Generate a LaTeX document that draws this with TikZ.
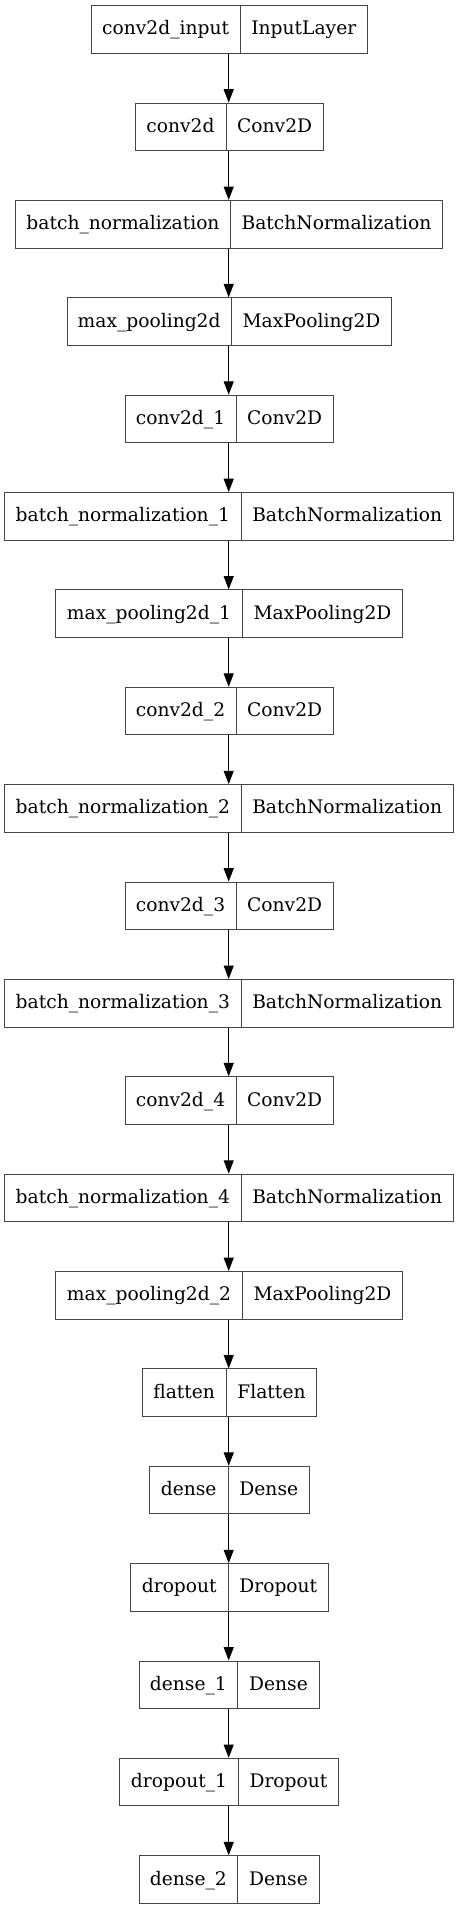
\documentclass[tikz,border=0pt]{standalone}
\usepackage{fontspec}
\setmainfont{DejaVu Serif}
\usetikzlibrary{arrows.meta}
\definecolor{boxgray}{HTML}{454545}
\begin{document}
\begin{tikzpicture}[x=0.75pt,y=-0.75pt,
  layerbox/.style={draw=boxgray, line width=0.75pt, inner sep=0pt, minimum height=35.7pt},
  divline/.style={draw=boxgray, line width=0.75pt},
  lbl/.style={font=\fontsize{14}{16}\selectfont, inner sep=0pt, text=black, anchor=base},
  arr/.style={-{Triangle[length=10pt,width=7.5pt]}, line width=0.75pt, black}]
\useasboundingbox (0,0) rectangle (459,1909);
\coordinate (ax) at (228.7,0);
\foreach \lt/\rt/\L/\D/\R [count=\k from 0] in {
  conv2d\_input/InputLayer/91/240.3/367.3,
  conv2d/Conv2D/135/226/323.3,
  batch\_normalization/BatchNormalization/15.7/230.3/442.7,
  max\_pooling2d/MaxPooling2D/67/231.3/391.7,
  conv2d\_1/Conv2D/125/236/333.3,
  batch\_normalization\_1/BatchNormalization/4.7/241/453.3,
  max\_pooling2d\_1/MaxPooling2D/55.7/242.3/402.7,
  conv2d\_2/Conv2D/125/236/333.3,
  batch\_normalization\_2/BatchNormalization/4.7/241/453.3,
  conv2d\_3/Conv2D/125/236/333.3,
  batch\_normalization\_3/BatchNormalization/4.7/241/453.3,
  conv2d\_4/Conv2D/125/236/333.3,
  batch\_normalization\_4/BatchNormalization/4.7/241/453.3,
  max\_pooling2d\_2/MaxPooling2D/55.7/242.3/402.7,
  flatten/Flatten/142/226.3/316.7,
  dense/Dense/149/228.3/309.3,
  dropout/Dropout/130.3/228.3/328.3,
  dense\_1/Dense/139/237.7/319.3,
  dropout\_1/Dropout/119.7/238.3/338.7,
  dense\_2/Dense/139/237.7/319.3}{
  \pgfmathsetmacro\yc{5.7+97.37*\k+23.8}
  \pgfmathsetmacro\yb{\yc+5.5}
  \pgfmathsetmacro\xl{(\L+\D)/2}
  \pgfmathsetmacro\xr{(\D+\R)/2}
  \pgfmathsetmacro\xc{(\L+\R)/2}
  \pgfmathsetmacro\boxw{(\R-\L)*0.75}
  \node[layerbox, minimum width=\boxw pt] (n\k) at (\xc,\yc) {};
  \draw[divline] (n\k.north -| \D,0) -- (n\k.south -| \D,0);
  \node[lbl] (l\k) at (\xl,\yb) {\lt};
  \node[lbl] (r\k) at (\xr,\yb) {\rt};
}
\foreach \i [evaluate=\i as \j using int(\i+1)] in {0,...,18}{
  \draw[arr] (n\i.south -| ax) -- (n\j.north -| ax);
}
\end{tikzpicture}
\end{document}
